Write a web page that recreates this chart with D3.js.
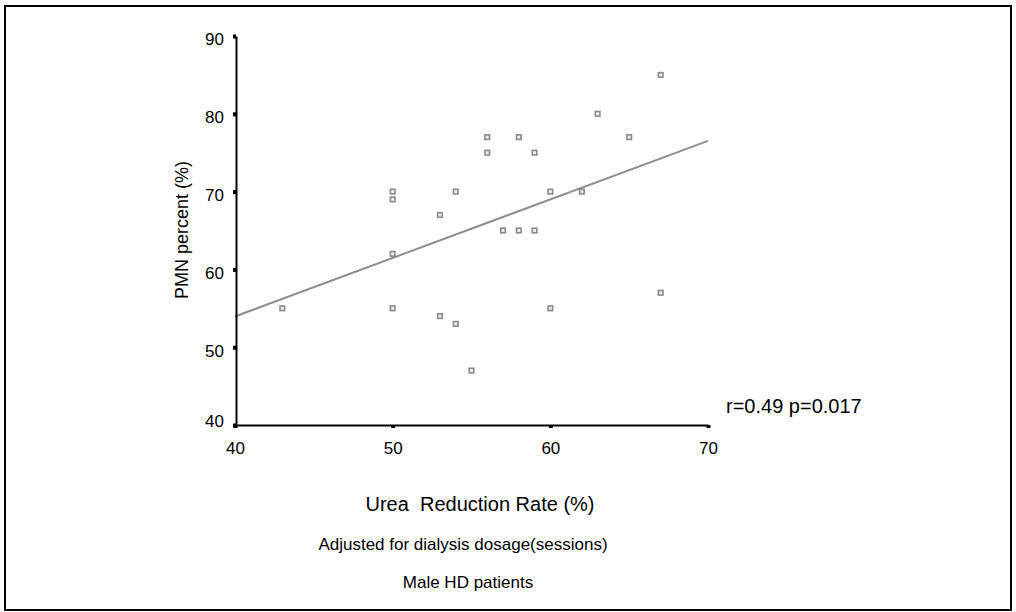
<!DOCTYPE html>
<html>
<head>
<meta charset="utf-8">
<script src="https://cdn.jsdelivr.net/npm/d3@7"></script>
<style>
  html, body { margin: 0; padding: 0; background: #fff; }
  svg { display: block; }
  text { font-family: "Liberation Sans", Arial, Helvetica, sans-serif; fill: #000; }
</style>
</head>
<body>
<svg id="chart" width="1016" height="612"></svg>
<script>
// Urea reduction rate (%) and PMN percent (%) for each patient
const urr = [43, 50, 50, 50, 50, 53, 53, 54, 54, 55, 56, 56, 57, 58, 58, 59, 59, 60, 60, 62, 63, 65, 67, 67];
const pmn = [55, 70, 69, 62, 55, 67, 54, 70, 53, 47, 77, 75, 65, 77, 65, 75, 65, 70, 55, 70, 80, 77, 85, 57];

const xTicks = [40, 50, 60, 70];
const yTicks = [40, 50, 60, 70, 80, 90];

const xTitle = "Urea  Reduction Rate (%)";
const yTitle = "PMN percent (%)";
const subtitles = ["Adjusted for dialysis dosage(sessions)", "Male HD patients"];
const statLabel = "r=0.49 p=0.017";

const svg = d3.select("#chart");

// outer frame
svg.append("rect")
  .attr("x", 5).attr("y", 6).attr("width", 1006).attr("height", 604)
  .attr("fill", "none").attr("stroke", "#000").attr("stroke-width", 2);

const x = d3.scaleLinear().domain([40, 70]).range([235, 708]);
const y = d3.scaleLinear().domain([40, 90]).range([425, 36]);

// least-squares fit line
const n = urr.length;
const mx = d3.mean(urr), my = d3.mean(pmn);
let sxy = 0, sxx = 0;
for (let i = 0; i < n; i++) {
  sxy += (urr[i] - mx) * (pmn[i] - my);
  sxx += (urr[i] - mx) * (urr[i] - mx);
}
const slope = sxy / sxx;
const intercept = my - slope * mx;
const fit = x.domain().map(v => [v, intercept + slope * v]);

svg.append("path")
  .datum(fit)
  .attr("d", d3.line().x(d => x(d[0])).y(d => y(d[1])))
  .attr("fill", "none")
  .attr("stroke", "#8e8e8e")
  .attr("stroke-width", 2);

// points
const pts = urr.map((v, i) => ({ x: v, y: pmn[i] }));
const s = 4.6;
svg.append("g").selectAll("rect")
  .data(pts)
  .join("rect")
  .attr("x", d => x(d.x) - s / 2)
  .attr("y", d => y(d.y) - s / 2)
  .attr("width", s).attr("height", s)
  .attr("fill", "#ececec")
  .attr("stroke", "#8a8a8a")
  .attr("stroke-width", 1.6);

// y axis
const yAxis = svg.append("g")
  .attr("transform", `translate(${x(40) + 1},0)`)
  .call(d3.axisLeft(y).tickValues(yTicks).tickFormat(d3.format("d"))
    .tickSize(3).tickSizeOuter(0).tickPadding(9));
yAxis.select(".domain").attr("stroke", "#000").attr("stroke-width", 2);
yAxis.selectAll(".tick line").attr("stroke", "#000").attr("stroke-width", 4);
yAxis.selectAll(".tick text")
  .attr("font-size", 17)
  .attr("font-family", null)
  .attr("transform", d => `translate(0,${d === yTicks[0] ? -4 : 3.5})`);

// x axis
const xAxis = svg.append("g")
  .attr("transform", `translate(0,${y(40)})`)
  .call(d3.axisBottom(x).tickValues(xTicks).tickFormat(d3.format("d"))
    .tickSize(3).tickSizeOuter(0).tickPadding(14));
xAxis.select(".domain").attr("stroke", "#000").attr("stroke-width", 2);
xAxis.selectAll(".tick line").attr("stroke", "#000").attr("stroke-width", 4);
xAxis.selectAll(".tick text")
  .attr("font-size", 17)
  .attr("font-family", null);

// titles
svg.append("text")
  .attr("transform", "translate(188,230) rotate(-90)")
  .attr("text-anchor", "middle")
  .attr("font-size", 18)
  .text(yTitle);

svg.append("text")
  .attr("x", 480).attr("y", 511)
  .attr("text-anchor", "middle")
  .attr("font-size", 20)
  .style("white-space", "pre")
  .text(xTitle);

svg.append("text")
  .attr("x", 463).attr("y", 550)
  .attr("text-anchor", "middle")
  .attr("font-size", 17)
  .text(subtitles[0]);

svg.append("text")
  .attr("x", 468).attr("y", 588)
  .attr("text-anchor", "middle")
  .attr("font-size", 17)
  .text(subtitles[1]);

svg.append("text")
  .attr("x", 726).attr("y", 413)
  .attr("font-size", 20)
  .text(statLabel);
</script>
</body>
</html>
